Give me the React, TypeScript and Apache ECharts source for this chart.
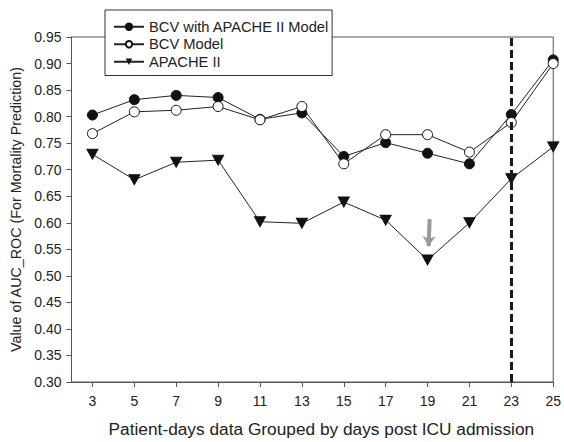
import React, { useEffect, useRef } from "react";
import * as echarts from "echarts";

const days = [3, 5, 7, 9, 11, 13, 15, 17, 19, 21, 23, 25];
const bcvWithApache = [0.803, 0.832, 0.84, 0.836, 0.795, 0.807, 0.725, 0.751, 0.731, 0.711, 0.804, 0.907];
const bcvModel = [0.768, 0.809, 0.812, 0.819, 0.794, 0.819, 0.711, 0.766, 0.766, 0.733, 0.789, 0.9];
const apacheII = [0.729, 0.681, 0.714, 0.718, 0.602, 0.599, 0.639, 0.605, 0.53, 0.6, 0.683, 0.743];
const xTickValues = [3, 5, 7, 9, 11, 13, 15, 17, 19, 21, 23, 25];
const cutoffDay = 23;
const arrowFrom = [19.1, 0.607];
const arrowTo = [19.05, 0.556];

const FONT = "Liberation Sans, Arial, sans-serif";
const INK = "#222";

export default function App() {
  const ref = useRef<HTMLDivElement>(null);
  useEffect(() => {
    if (!ref.current) return;
    const chart = echarts.init(ref.current, undefined, { renderer: "svg" });
    const pts = (vals: number[]) => days.map((d, i) => [d, vals[i]]);
    chart.setOption({
      animation: false,
      backgroundColor: "#fff",
      textStyle: { fontFamily: FONT, color: INK },
      grid: {
        left: 71.5,
        right: 8,
        top: 37,
        bottom: 57,
        show: true,
        borderColor: "#555",
        borderWidth: 1,
        backgroundColor: "transparent",
      },
      legend: {
        orient: "vertical",
        left: 105,
        top: 10,
        backgroundColor: "#fff",
        borderColor: "#333",
        borderWidth: 1,
        borderRadius: 0,
        padding: [8, 3, 5, 8],
        itemWidth: 30,
        itemHeight: 8,
        itemGap: 0,
        textStyle: { fontFamily: FONT, fontSize: 14.7, color: INK, lineHeight: 17.5 },
        z: 10,
        data: ["BCV with APACHE II Model", "BCV Model", "APACHE II"],
      },
      xAxis: {
        type: "value",
        min: 2,
        max: 25,
        name: "Patient-days data Grouped by days post ICU admission",
        nameLocation: "middle",
        nameGap: 38,
        nameTextStyle: { fontFamily: FONT, fontSize: 17.3, color: INK, padding: [0, 0, 0, 18] },
        axisLine: { show: true, lineStyle: { color: "#555", width: 1 } },
        axisTick: { show: true, length: 5, customValues: xTickValues, lineStyle: { color: "#555" } },
        axisLabel: { customValues: xTickValues, fontSize: 14, color: INK, margin: 12, fontFamily: FONT },
        splitLine: { show: false },
      },
      yAxis: {
        type: "value",
        min: 0.3,
        max: 0.95,
        interval: 0.05,
        name: "Value of AUC_ROC (For Mortality Prediction)",
        nameLocation: "middle",
        nameGap: 47,
        nameRotate: 90,
        nameTextStyle: { fontFamily: FONT, fontSize: 14.3, color: INK },
        axisLine: { show: true, lineStyle: { color: "#555", width: 1 } },
        axisTick: { show: true, length: 5, lineStyle: { color: "#555" } },
        axisLabel: {
          fontSize: 14,
          color: INK,
          margin: 10,
          fontFamily: FONT,
          formatter: (v: number) => v.toFixed(2),
        },
        splitLine: { show: false },
      },
      series: [
        {
          name: "BCV with APACHE II Model",
          type: "line",
          data: pts(bcvWithApache),
          symbol: "circle",
          symbolSize: 10,
          itemStyle: { color: "#111", borderColor: "#111", borderWidth: 1 },
          lineStyle: { color: "#222", width: 1 },
          markLine: {
            silent: true,
            symbol: ["none", "none"],
            label: { show: false },
            lineStyle: { color: "#1a1a1a", width: 3, type: [8, 4] },
            data: [{ xAxis: cutoffDay }],
          },
        },
        {
          name: "BCV Model",
          type: "line",
          data: pts(bcvModel),
          symbol: "circle",
          symbolSize: 10,
          itemStyle: { color: "#fff", borderColor: "#111", borderWidth: 1 },
          lineStyle: { color: "#222", width: 1 },
        },
        {
          name: "APACHE II",
          type: "line",
          data: pts(apacheII),
          symbol: "triangle",
          symbolRotate: 180,
          symbolSize: [11, 10],
          itemStyle: { color: "#111", borderColor: "#111" },
          lineStyle: { color: "#222", width: 1 },
          markLine: {
            silent: true,
            symbol: ["none", "arrow"],
            symbolSize: [10, 10],
            label: { show: false },
            lineStyle: { color: "#999", width: 4, type: "solid" },
            data: [[{ coord: arrowFrom }, { coord: arrowTo }]],
          },
        },
      ],
    });
    return () => chart.dispose();
  }, []);
  return <div ref={ref} style={{ width: 564, height: 442, position: "absolute", left: 0, top: 0 }} />;
}
